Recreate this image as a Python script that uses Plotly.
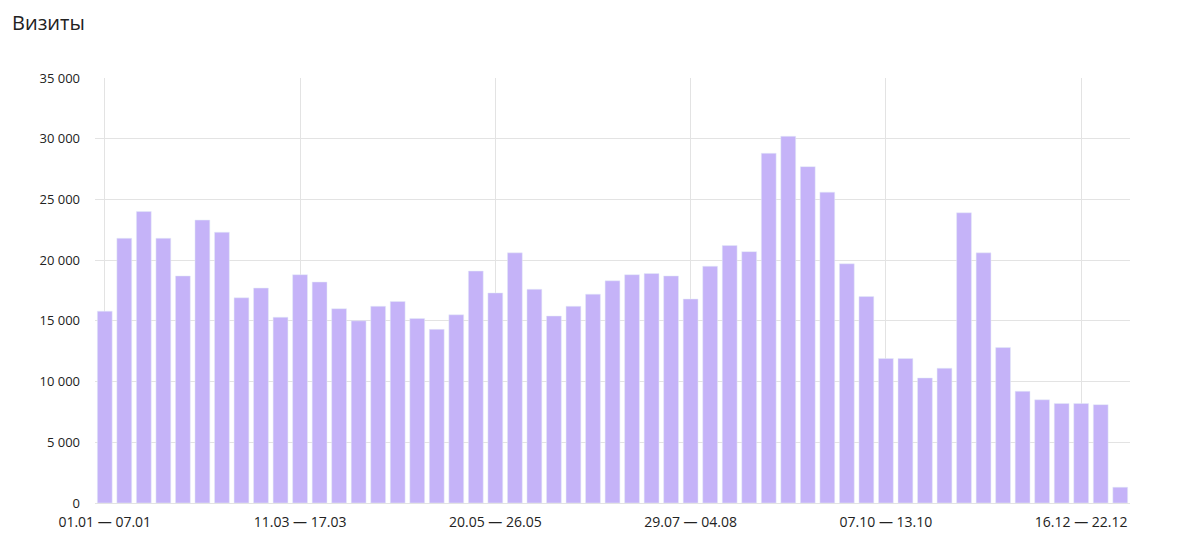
import plotly.graph_objects as go
from datetime import date, timedelta

start = date(2024, 1, 1)
weeks = []
for i in range(53):
    a = start + timedelta(days=7 * i)
    b = min(a + timedelta(days=6), date(2024, 12, 31))
    weeks.append(f"{a:%d.%m} — {b:%d.%m}")

visits = [15800, 21800, 24000, 21800, 18700, 23300, 22300, 16900, 17700, 15300,
          18800, 18200, 16000, 15000, 16200, 16600, 15200, 14300, 15500, 19100,
          17300, 20600, 17600, 15400, 16200, 17200, 18300, 18800, 18900, 18700,
          16800, 19500, 21200, 20700, 28800, 30200, 27700, 25600, 19700, 17000,
          11900, 11900, 10300, 11100, 23900, 20600, 12800, 9200, 8500, 8200,
          8200, 8100, 1300]

tick_idx = [0, 10, 20, 30, 40, 50]
y_ticks = [0, 5000, 10000, 15000, 20000, 25000, 30000, 35000]
y_labels = ["0", "5 000", "10 000", "15 000", "20 000", "25 000", "30 000", "35 000"]

x = list(range(len(visits)))
fig = go.Figure(go.Bar(x=x, y=visits, marker_color="#c5b3f8", width=0.76,
                       customdata=weeks, hovertemplate="%{customdata}: %{y}<extra></extra>"))
fig.update_layout(
    width=1182, height=547, plot_bgcolor="white", paper_bgcolor="white",
    margin=dict(l=87, r=60, t=70, b=52), showlegend=False,
    font=dict(family="Open Sans, sans-serif", size=13, color="#222"),
    title=dict(text="Визиты", x=0.0, xanchor="left", y=0.985, yanchor="top",
               pad=dict(l=4), font=dict(size=20, color="#222")),
)
fig.update_xaxes(range=[-0.5, 52.5], tickvals=tick_idx, ticktext=[weeks[i] for i in tick_idx],
                 showgrid=True, gridcolor="#e3e3e3", zeroline=False, ticks="",
                 showline=True, linecolor="#e3e3e3", ticklabelstandoff=6,
                 tickfont=dict(size=14))
fig.update_yaxes(range=[0, 35000], tickvals=y_ticks, ticktext=y_labels,
                 showgrid=True, gridcolor="#e3e3e3", zeroline=False, ticklabelstandoff=14)
fig.write_html("out.html")
